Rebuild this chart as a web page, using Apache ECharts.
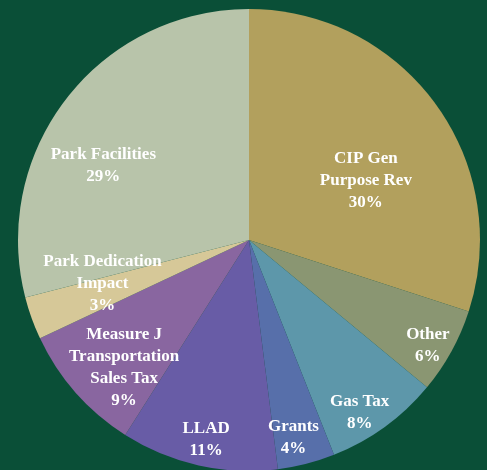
<!DOCTYPE html>
<html>
<head>
<meta charset="utf-8">
<script src="https://cdn.jsdelivr.net/npm/echarts@6/dist/echarts.min.js"></script>
<style>
  html, body { margin: 0; padding: 0; background: #0a4f37; }
  #chart { width: 487px; height: 470px; }
</style>
</head>
<body>
<div id="chart"></div>
<script>
// 数据
var names = ['CIP Gen\nPurpose Rev', 'Other', 'Gas Tax', 'Grants', 'LLAD',
  'Measure J\nTransportation\nSales Tax', 'Park Dedication\nImpact', 'Park Facilities'];
var values = [30, 6, 8, 4, 11, 9, 3, 29];
var colors = ['#b2a05d', '#8a9672', '#5d97aa', '#576faa', '#685ca6', '#8966a0', '#d6c898', '#b8c4aa'];
// label nudges from the default inside spot
var offsets = [[21, 10], [75, 49], [41, 77], [15, 83], [-17, 84], [-36, 49], [-35, 3], [-52, -2]];

var Chart = echarts.init(document.getElementById('chart'));

var data = [];
for (var i = 0; i < names.length; i++) {
  data.push({
    name: names[i],
    value: values[i],
    itemStyle: { color: colors[i] },
    label: { offset: offsets[i] }
  });
}

var option = {
  backgroundColor: '#0a4f37',
  animation: false,
  series: [{
    type: 'pie',
    center: [249, 240],
    radius: [0, 231],
    startAngle: 90,
    clockwise: true,
    itemStyle: { borderWidth: 0 },
    label: {
      show: true,
      position: 'inside',
      color: '#ffffff',
      fontFamily: 'Liberation Serif',
      fontWeight: 'bold',
      fontSize: 17,
      lineHeight: 22,
      align: 'center',
      formatter: function(p) {
        return p.name + '\n' + p.value + '%';
      }
    },
    labelLine: { show: false },
    emphasis: { disabled: true },
    data: data
  }]
};
Chart.setOption(option);
</script>
</body>
</html>
